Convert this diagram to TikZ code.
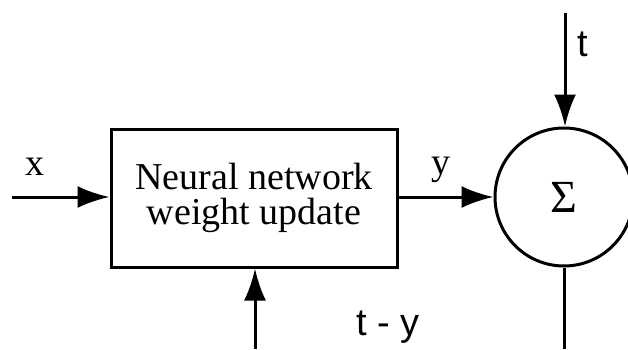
\documentclass[tikz,border=0pt]{standalone}
\usepackage{fontspec}
\setmainfont{Liberation Serif}
\newfontfamily\labelfont{Liberation Sans}
\usetikzlibrary{arrows.meta}

\begin{document}
\begin{tikzpicture}[x=1pt,y=1pt]

\tikzset{block/.style = {draw, line width=3pt, minimum width=286pt, minimum height=138pt, align=center, font=\fontsize{38}{35}\selectfont}}
\tikzset{summer/.style = {shape=circle, draw, line width=3pt, minimum size=138pt, inner sep=0pt, font=\fontsize{46}{50}\selectfont}}
\tikzset{arc/.style = {-{Latex[length=32pt,width=22pt]}, line width=3pt}}
\tikzset{line/.style = {line width=3pt}}
\tikzset{lbl/.style = {inner sep=0pt, font=\fontsize{38}{40}\selectfont}}

\useasboundingbox (0,0) rectangle (628,349);

% blocks
\node[block] (nn) at (254,151) {Neural network\\weight update};
\node[summer] (sum) at (564,152) {Σ};

% ends
\coordinate (xin) at (12,152);
\coordinate (tin) at (565,336);
\coordinate (sout) at (564,0);
\coordinate (fb) at (255,0);

% labels
\node[lbl] (xl) at (35,182) {x};
\node[lbl] (yl) at (441,179) {y};
\node[lbl] (tl) at (583,305) {\labelfont t};
\node[lbl] (el) at (388,22) {\labelfont t - y};

% arcs
\draw[arc] (xin) -- (nn.west |- xin);
\draw[arc] (nn.east |- sum.west) -- (sum.west);
\draw[arc] (tin) -- (sum.north -| tin);
\draw[arc] (fb) -- (nn.south -| fb);

% edges
\draw[line] (sum.south) -- (sout);

\end{tikzpicture}
\end{document}
